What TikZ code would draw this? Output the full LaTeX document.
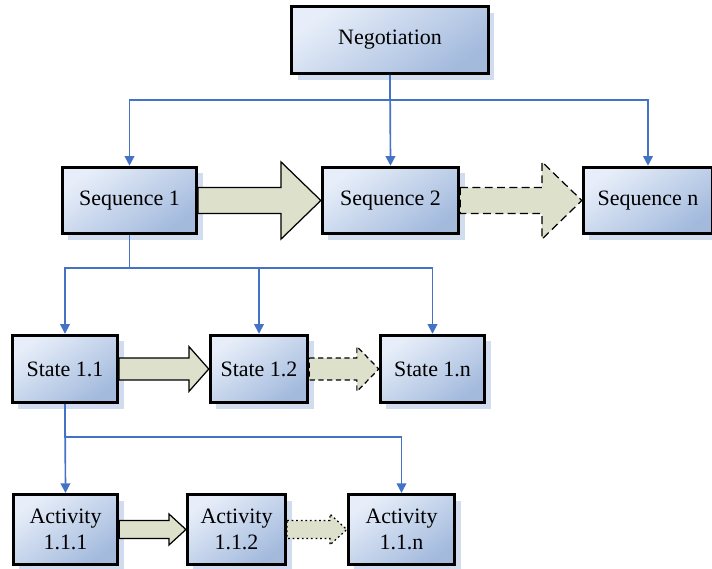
\documentclass[tikz,border=0pt]{standalone}
\usepackage{fontspec}
\setmainfont{Liberation Serif}
\usetikzlibrary{positioning,calc,arrows.meta,shadows}

\definecolor{boxlight}{RGB}{231,238,249}
\definecolor{boxdark}{RGB}{163,186,221}
\definecolor{boxshade}{RGB}{210,220,239}
\definecolor{linkblue}{RGB}{68,114,196}
\definecolor{fatfill}{RGB}{221,224,203}

\tikzset{
  stepbox/.style={draw, line width=1.6pt, minimum height=38pt, align=center,
    font=\fontsize{12.5}{14.5}\selectfont,
    top color=boxlight, bottom color=boxdark, shading angle=35,
    drop shadow={shadow xshift=3.5pt, shadow yshift=-3.5pt, fill=boxshade, opacity=1}},
  link/.style={draw=linkblue, line width=0.95pt, -{Triangle[width=5.5pt,length=5.5pt]}},
  fat/.style={fill=fatfill, draw=black, line width=0.7pt, line join=miter},
}

% fat arrow between two boxes: [style]{from}{to}{shaft half}{head half}{head length}
\newcommand{\fatarrow}[6][]{%
  \draw[fat,#1] let \p1=(#2.east), \p2=(#3.west) in
    (\x1,\y1+#4) -- (\x2-#6,\y1+#4) -- (\x2-#6,\y1+#5) -- (\x2,\y1)
    -- (\x2-#6,\y1-#5) -- (\x2-#6,\y1-#4) -- (\x1,\y1-#4) -- cycle;}

\begin{document}
\begin{tikzpicture}[x=0.02cm, y=-0.02cm]
    \useasboundingbox (0,0) rectangle (712,568);

    % boxes
    \node [stepbox, minimum width=111.7pt] (neg) at (390,40) {Negotiation};

    \node [stepbox, minimum width=76.5pt] (seq1) at (129.5,200.5) {Sequence 1};
    \node [stepbox, minimum width=77.7pt] (seq2) at (390.5,200.5) {Sequence 2};
    \node [stepbox, minimum width=73.7pt] (seqn) at (648,200.5) {Sequence n};

    \node [stepbox, minimum width=60pt, minimum height=38.5pt] (st11) at (65,369) {State 1.1};
    \node [stepbox, minimum width=55.6pt, minimum height=38.5pt] (st12) at (259,369) {State 1.2};
    \node [stepbox, minimum width=59.5pt, minimum height=38.5pt] (st1n) at (432.5,369) {State 1.n};

    \node [stepbox, minimum width=59.5pt, minimum height=40pt] (act1) at (65.5,529.5) {Activity\\1.1.1};
    \node [stepbox, minimum width=56pt, minimum height=40pt] (act2) at (236.5,529.5) {Activity\\1.1.2};
    \node [stepbox, minimum width=60.7pt, minimum height=40pt] (actn) at (401.5,529.5) {Activity\\1.1.n};

    % tree links
    \coordinate (bus0) at (390,100);
    \coordinate (bus1) at (129,268);
    \coordinate (bus2) at (65,437);

    \draw [link] (neg.south) -- (neg.south |- bus0) -| (seq1.north);
    \draw [link] (neg.south) -- (seq2.north);
    \draw [link] (neg.south) -- (neg.south |- bus0) -| (seqn.north);

    \draw [link] (seq1.south) -- (seq1.south |- bus1) -| (st11.north);
    \draw [link] (seq1.south) -- (seq1.south |- bus1) -| (st12.north);
    \draw [link] (seq1.south) -- (seq1.south |- bus1) -| (st1n.north);

    \draw [link] (st11.south) -- (act1.north);
    \draw [link] (st11.south) -- (st11.south |- bus2) -| (actn.north);

    % fat arrows
    \fatarrow{seq1}{seq2}{7.4pt}{22pt}{22.7pt}
    \fatarrow[dash pattern=on 4.5pt off 2.5pt]{seq2}{seqn}{7.4pt}{22pt}{22.7pt}

    \fatarrow{st11}{st12}{6.2pt}{12.8pt}{11.3pt}
    \fatarrow[dash pattern=on 3pt off 2pt]{st12}{st1n}{6.2pt}{12.8pt}{12.5pt}

    \fatarrow{act1}{act2}{5.1pt}{8.8pt}{9.6pt}
    \fatarrow[dash pattern=on 1pt off 1.6pt]{act2}{actn}{5.1pt}{8.8pt}{9.6pt}
\end{tikzpicture}
\end{document}
